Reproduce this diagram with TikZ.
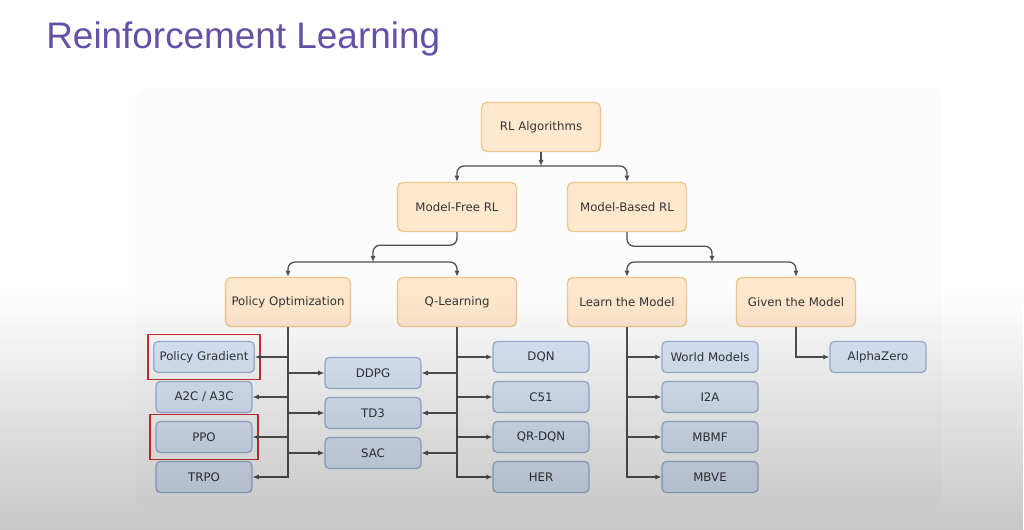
\documentclass[tikz,border=0pt]{standalone}
\usepackage{fontspec}
\setmainfont{DejaVu Sans}
\newfontfamily\titlefont{Liberation Sans}
\usepackage{xcolor}
\usepackage{tikz}
\usetikzlibrary{shapes,arrows.meta,fit,fadings}
\definecolor{titlepurple}{HTML}{6650A6}
\definecolor{orangefill}{HTML}{FFE8CE}
\definecolor{orangeline}{HTML}{EDC88C}
\definecolor{bluefill}{HTML}{DCE8FA}
\definecolor{blueline}{HTML}{9CB2D4}
\definecolor{edgegray}{HTML}{505050}
\definecolor{hlred}{HTML}{CC3333}
\tikzfading[name=fade down, top color=transparent!100, bottom color=transparent!0]
\tikzstyle{category}=[
    rectangle,
    rounded corners=3pt,
    draw=orangeline,
    fill=orangefill,
    line width=0.8pt,
    text=black!80,
    font=\fontsize{6.7}{8}\selectfont,
    minimum width=2.38cm,
    minimum height=0.98cm]
\tikzstyle{algorithm}=[
    rectangle,
    rounded corners=2.5pt,
    draw=blueline,
    fill=bluefill,
    line width=0.7pt,
    text=black!80,
    font=\fontsize{6.7}{8}\selectfont,
    minimum width=1.92cm,
    minimum height=0.62cm]
\tikzstyle{link}=[
    draw=edgegray,
    line width=0.75pt,
    -{Latex[length=3.5pt,width=3pt]}]
\tikzstyle{highlight}=[
    rectangle,
    draw=hlred,
    line width=1pt,
    inner xsep=3pt,
    inner ysep=3.6pt]

\begin{document}
\begin{tikzpicture}[x=0.02cm,y=-0.02cm]
    \useasboundingbox (0,0) rectangle (1024,530);
    \fill[white] (0,0) rectangle (1024,530);
    \fill[black!1.2, rounded corners=6pt] (135,88) rectangle (942,505);

    \node[anchor=base west, inner sep=0, text=titlepurple,
          font=\titlefont\fontsize{21}{24}\selectfont] (title) at (46,49) {Reinforcement Learning};

    \node[category] (root) at (541,127) {RL Algorithms};
    \node[category] (mf) at (457,207) {Model-Free RL};
    \node[category] (mb) at (627,207) {Model-Based RL};
    \node[category] (po) at (288,302) {Policy Optimization};
    \node[category] (ql) at (457,302) {Q-Learning};
    \node[category] (ltm) at (627,302) {Learn the Model};
    \node[category] (gtm) at (796,302) {Given the Model};

    \node[algorithm] (pg) at (204,357) {Policy Gradient};
    \node[algorithm] (a2c) at (204,397) {A2C / A3C};
    \node[algorithm] (ppo) at (204,437) {PPO};
    \node[algorithm] (trpo) at (204,477) {TRPO};
    \node[algorithm] (ddpg) at (373,373) {DDPG};
    \node[algorithm] (td3) at (373,413) {TD3};
    \node[algorithm] (sac) at (373,453) {SAC};
    \node[algorithm] (dqn) at (541,357) {DQN};
    \node[algorithm] (c51) at (541,397) {C51};
    \node[algorithm] (qrdqn) at (541,437) {QR-DQN};
    \node[algorithm] (her) at (541,477) {HER};
    \node[algorithm] (wm) at (710,357) {World Models};
    \node[algorithm] (i2a) at (710,397) {I2A};
    \node[algorithm] (mbmf) at (710,437) {MBMF};
    \node[algorithm] (mbve) at (710,477) {MBVE};
    \node[algorithm] (az) at (878,357) {AlphaZero};

    \node[highlight, fit=(pg)] (hlpg) {};
    \node[highlight, fit=(ppo)] (hlppo) {};

    \coordinate (split0) at (541,166);
    \coordinate (split1) at (373,262);
    \coordinate (split2) at (712,262);

    \draw[link] (root.south) -- (split0);
    \draw[link, rounded corners=4pt] (split0) -| (mf.north);
    \draw[link, rounded corners=4pt] (split0) -| (mb.north);
    \draw[link, rounded corners=4pt] (mf.south) -- ++(0,13) -| (split1);
    \draw[link, rounded corners=4pt] (split1) -| (po.north);
    \draw[link, rounded corners=4pt] (split1) -| (ql.north);
    \draw[link, rounded corners=4pt] (mb.south) -- ++(0,14) -| (split2);
    \draw[link, rounded corners=4pt] (split2) -| (ltm.north);
    \draw[link, rounded corners=4pt] (split2) -| (gtm.north);

    \draw[link] (po.south) |- (pg.east);
    \draw[link] (po.south) |- (a2c.east);
    \draw[link] (po.south) |- (ppo.east);
    \draw[link] (po.south) |- (trpo.east);
    \draw[link] (po.south) |- (ddpg.west);
    \draw[link] (po.south) |- (td3.west);
    \draw[link] (po.south) |- (sac.west);

    \draw[link] (ql.south) |- (dqn.west);
    \draw[link] (ql.south) |- (c51.west);
    \draw[link] (ql.south) |- (qrdqn.west);
    \draw[link] (ql.south) |- (her.west);
    \draw[link] (ql.south) |- (ddpg.east);
    \draw[link] (ql.south) |- (td3.east);
    \draw[link] (ql.south) |- (sac.east);

    \draw[link] (ltm.south) |- (wm.west);
    \draw[link] (ltm.south) |- (i2a.west);
    \draw[link] (ltm.south) |- (mbmf.west);
    \draw[link] (ltm.south) |- (mbve.west);
    \draw[link] (gtm.south) |- (az.west);

    \fill[black, opacity=0.22, path fading=fade down] (0,290) rectangle (1024,530);
\end{tikzpicture}
\end{document}
